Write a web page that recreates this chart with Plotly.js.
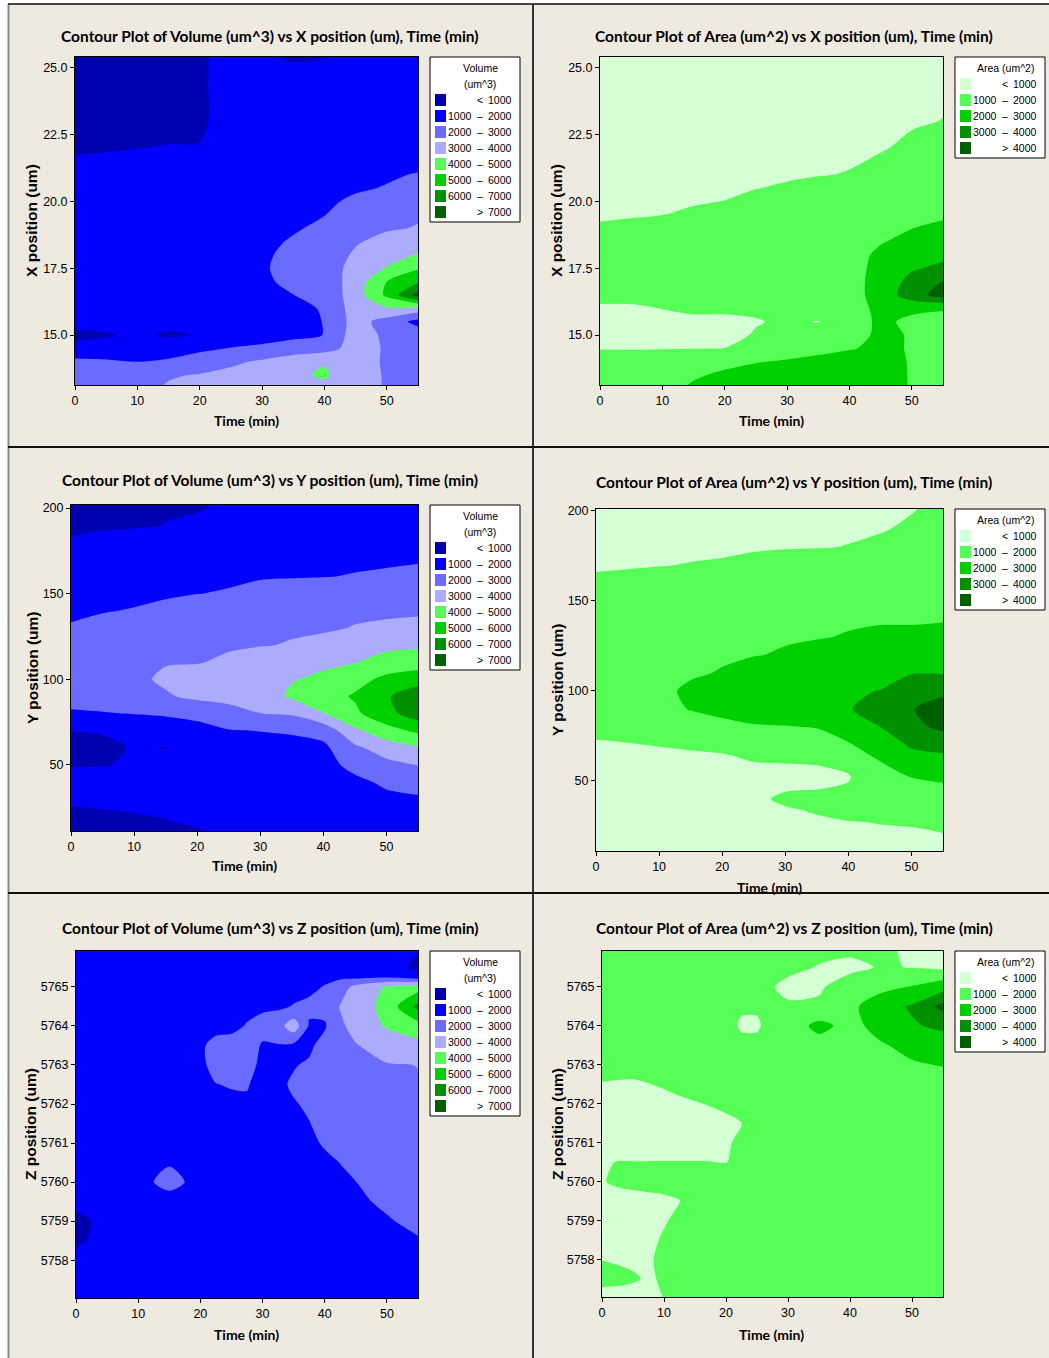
<!DOCTYPE html>
<html>
<head>
<meta charset="utf-8">
<script src="https://cdn.plot.ly/plotly-3.0.1.min.js"></script>
<style>
html,body{margin:0;padding:0;background:#ffffff;}
#chart{width:1049px;height:1358px;}
</style>
</head>
<body>
<div id="chart"></div>
<script>
// ---------------- DATA ----------------
// Contour levels and legend colours
const volumeLevels = [1000, 2000, 3000, 4000, 5000, 6000, 7000];
const volumeColors = ['#0000B0', '#0000FF', '#6B6BFF', '#ACACFF', '#55FF55', '#00D000', '#009000', '#006000'];
const areaLevels = [1000, 2000, 3000, 4000];
const areaColors = ['#D5FFD5', '#55FF55', '#00D000', '#009000', '#006000'];

// Time grid (min)
const timeMin = [0, 5, 10, 15, 20, 25, 30, 35, 40, 45, 50, 55];

// X position grid (um) for the two top panels
const xPosUm = [13.0, 13.5, 14.0, 14.5, 15.0, 15.5, 16.0, 16.5, 17.0, 17.5, 18.0, 18.5, 19.0, 19.5, 20.0, 20.5, 21.0, 22.0, 23.0, 24.5, 25.5];

// Volume (um^3) vs X position: one list per time (values along xPosUm)
const volumeVsX = [
  [2500,2450,2250,1250,800,1300,1400,1450,1450,1450,1450,1400,1400,1350,1300,1250,1150,950,800,750,750],
  [2500,2400,2150,1300,920,1300,1450,1500,1500,1500,1500,1450,1450,1400,1350,1300,1200,960,820,780,780],
  [2700,2500,1990,1400,1150,1350,1500,1550,1550,1550,1550,1500,1500,1450,1400,1350,1250,995,850,800,800],
  [3100,2920,2150,1500,900,1250,1500,1550,1600,1600,1600,1550,1550,1500,1450,1400,1300,1020,870,820,820],
  [3400,3050,2500,1800,1030,1300,1550,1600,1650,1650,1650,1600,1600,1550,1500,1450,1350,1040,850,850,850],
  [3500,3300,2800,2050,1400,1500,1600,1650,1700,1700,1700,1700,1650,1600,1550,1500,1450,1400,1400,1400,1350],
  [3600,3500,3150,2200,1600,1650,1700,1750,1850,1900,1850,1750,1700,1650,1600,1550,1500,1450,1400,1300,1050],
  [3900,3850,3500,2500,1750,1800,1850,1990,2200,2300,2250,2100,1900,1800,1700,1650,1600,1500,1400,1250,900],
  [3800,4100,3950,2600,2020,2020,2050,2300,2400,2400,2400,2350,2200,1980,1850,1750,1700,1550,1400,1250,950],
  [3500,3475,3500,3400,3500,3400,3500,3500,3450,3400,3150,2900,2700,2500,2150,1900,1800,1600,1450,1300,1200],
  [2900,2900,2850,2900,2800,2600,3900,5200,5000,4050,3700,3300,2900,2600,2300,2050,1900,1650,1500,1350,1300],
  [2600,2600,2600,2600,2600,1700,3600,7400,5850,4900,4050,3600,3050,2900,2500,2200,2050,1500,1400,1300,1300]
];

// Area (um^2) vs X position: one list per time (values along xPosUm)
const areaVsX = [
  [1300,1300,1200,980,850,850,950,1100,1250,1300,1300,1250,1100,900,800,700,650,600,550,500,500],
  [1400,1400,1250,970,800,800,930,1150,1300,1350,1350,1300,1150,950,850,750,700,600,550,500,500],
  [1600,1550,1300,980,800,850,1010,1200,1350,1400,1400,1350,1200,995,900,800,750,650,600,550,500],
  [2200,1850,1400,990,800,880,1100,1300,1400,1450,1450,1400,1300,1100,950,850,800,700,650,550,500],
  [2500,2200,1700,1005,820,900,1080,1300,1450,1500,1500,1450,1350,1200,1010,900,850,750,700,600,550],
  [2700,2400,1950,1400,1050,960,1100,1300,1450,1500,1550,1500,1450,1300,1150,990,900,800,750,650,600],
  [2900,2600,2100,1500,1200,1100,1200,1350,1500,1550,1600,1550,1500,1400,1250,1050,950,850,800,700,650],
  [2800,2700,2300,1700,1300,980,1300,1400,1550,1600,1600,1550,1500,1400,1300,1150,980,900,850,750,700],
  [2800,2700,2400,1950,1700,1600,1650,1700,1650,1750,1700,1650,1550,1450,1350,1200,1020,920,880,800,750],
  [2300,2300,2250,2150,2150,2150,2200,2300,2350,2200,2150,1950,1750,1600,1450,1350,1200,960,900,850,800],
  [1950,1950,1950,1950,1950,1850,2150,3600,3300,2900,2600,2200,1990,1800,1650,1500,1400,1100,950,900,850],
  [1700,1700,1750,1750,1750,1800,2050,4400,4050,3200,2800,2500,2150,1900,1700,1550,1450,1200,1010,900,850]
];

// Y position grid (um) for the volume-vs-Y panel
const yPosUmVol = [10, 20, 30, 40, 50, 60, 70, 80, 90, 100, 110, 120, 130, 140, 150, 160, 170, 180, 190, 202];

// Volume (um^3) vs Y position: one list per time (values along yPosUmVol)
const volumeVsY = [
  [700,850,1100,1300,950,800,1010,1900,2300,2500,2600,2400,2100,1800,1600,1400,1200,1050,900,800],
  [750,900,1150,1300,980,850,1050,1950,2400,2600,2700,2600,2300,1950,1700,1500,1300,1100,950,850],
  [800,950,1200,1350,1050,1050,1300,2030,2500,2800,2800,2700,2500,2050,1800,1600,1400,1200,950,900],
  [850,1030,1250,1400,1200,980,1500,2100,2900,3150,2950,2800,2600,2200,1900,1700,1500,1300,1010,950],
  [950,1100,1300,1450,1400,1350,1700,2250,3200,3400,2950,2850,2650,2400,1990,1800,1600,1400,1150,900],
  [1050,1200,1350,1500,1550,1550,1950,2700,3250,3600,3150,2900,2700,2500,2050,1900,1700,1500,1300,1100],
  [1100,1300,1450,1550,1600,1650,2020,2990,3500,3750,3500,2950,2800,2600,2200,1950,1750,1550,1350,1150],
  [1150,1350,1500,1600,1650,1700,2100,3100,4150,3950,3700,3050,2900,2700,2450,1950,1800,1600,1400,1200],
  [1200,1400,1550,1650,1700,1800,2350,3950,4600,4150,3850,3350,2850,2750,2550,1980,1850,1650,1450,1250],
  [1300,1500,1650,1800,2250,2800,3800,4800,5100,4700,3950,3600,3050,2800,2500,2030,1900,1700,1500,1300],
  [1400,1600,1800,2150,2700,3500,4600,5700,5900,5200,4500,3700,3150,2850,2600,2100,1900,1750,1600,1400],
  [1500,1700,1900,2300,3020,3900,5200,6500,6600,5600,4500,3850,3200,2900,2650,2300,1900,1800,1700,1500]
];

// Y position grid (um) for the area-vs-Y panel
const yPosUmArea = [10, 20, 27, 34, 40, 46, 52, 58, 64, 72, 80, 90, 100, 110, 120, 130, 140, 150, 160, 170, 180, 190, 202];

// Area (um^2) vs Y position: one list per time (values along yPosUmArea)
const areaVsY = [
  [600,650,700,720,750,780,800,820,870,980,1150,1350,1500,1600,1600,1500,1350,1200,1080,950,850,750,700],
  [620,680,720,740,770,800,830,860,910,1010,1200,1450,1600,1700,1700,1600,1450,1300,1100,970,870,780,720],
  [650,700,750,770,800,830,860,900,950,1030,1300,1650,1800,1850,1800,1700,1550,1400,1200,980,880,800,740],
  [680,740,780,800,830,860,890,930,970,1050,1450,2050,2150,1900,1850,1750,1650,1500,1300,1020,900,830,760],
  [700,760,800,830,860,880,910,950,980,1100,1700,2300,2500,2050,1900,1800,1700,1550,1350,1050,920,850,780],
  [720,780,820,850,880,900,930,970,1040,1300,1900,2500,2700,2500,1950,1850,1750,1600,1400,1150,940,870,800],
  [750,800,850,950,1100,950,900,960,1100,1400,1950,2600,2900,2600,2100,1900,1800,1650,1450,1200,970,900,820],
  [780,850,920,1050,1150,980,920,980,1150,1500,2050,2700,2950,2750,2300,1950,1850,1700,1500,1250,980,910,840],
  [800,880,980,1150,1250,1050,960,1080,1500,2020,2600,2950,2950,2800,2500,2050,1900,1750,1550,1300,1010,950,860],
  [850,950,1010,1150,1300,1350,1450,1800,2200,2600,2990,3300,3010,2800,2600,2200,1900,1800,1600,1400,1150,950,880],
  [900,995,1003,1250,1500,1750,2010,2500,2800,3200,3700,3950,3600,2950,2700,2200,1900,1850,1700,1500,1300,1100,950],
  [920,990,1050,1300,1600,1850,2150,2600,2900,3450,4250,4400,3800,2950,2750,2400,1900,1850,1750,1600,1450,1300,1150]
];

// Z position panels
const timeMinZVol = [0, 5, 10, 15, 20, 22.5, 25, 27.5, 30, 32.5, 35, 37.5, 40, 42.5, 45, 50, 55];
const zPosUmVol = [5757.0, 5758.0, 5758.5, 5759.0, 5759.5, 5760.0, 5760.5, 5761.0, 5761.5, 5762.0, 5762.5, 5763.0, 5763.5, 5764.0, 5764.5, 5765.0, 5765.25, 5765.5, 5766.0];

// Volume (um^3) vs Z position: one list per time (values along zPosUmVol)
const volumeVsZ = [
  [1200,1100,950,900,1100,1400,1450,1500,1500,1500,1500,1500,1500,1500,1500,1500,1500,1500,1500],
  [1300,1250,1100,1100,1300,1500,1550,1550,1550,1500,1500,1500,1500,1500,1500,1500,1500,1500,1500],
  [1350,1400,1400,1450,1500,1600,1600,1600,1550,1550,1500,1500,1500,1500,1500,1500,1500,1500,1500],
  [1400,1450,1500,1500,1500,2400,1900,1600,1550,1550,1500,1500,1500,1500,1500,1500,1500,1500,1500],
  [1400,1500,1500,1550,1600,1600,1600,1600,1600,1600,1700,1800,1900,1700,1600,1550,1500,1500,1500],
  [1400,1500,1550,1550,1600,1600,1600,1650,1700,1800,1980,2300,2200,1800,1650,1550,1500,1500,1500],
  [1400,1500,1550,1600,1600,1600,1650,1700,1750,1850,2050,2400,2300,1800,1700,1600,1550,1500,1500],
  [1400,1500,1550,1600,1650,1700,1700,1750,1800,1900,2050,2300,2250,2050,1800,1650,1600,1550,1500],
  [1400,1500,1550,1600,1650,1700,1750,1800,1800,1850,1750,1800,1950,2200,1900,1700,1600,1550,1500],
  [1400,1500,1550,1600,1650,1700,1750,1800,1850,1900,1850,1800,1950,2600,1850,1700,1600,1550,1500],
  [1400,1500,1550,1600,1650,1700,1750,1800,1850,1950,2100,1950,1800,3600,2050,1700,1600,1550,1500],
  [1400,1500,1550,1650,1700,1750,1800,1900,1980,2100,2250,2100,1850,1900,2200,1800,1650,1550,1500],
  [1450,1550,1600,1700,1750,1800,1900,2050,2200,2350,2450,2500,2300,1900,2300,2050,1800,1600,1500],
  [1500,1600,1700,1750,1850,1900,2010,2200,2350,2500,2600,2700,2800,2850,3050,2500,1850,1600,1500],
  [1550,1650,1750,1800,1900,1995,2150,2300,2450,2600,2750,2850,2950,3300,3500,3300,1800,1600,1500],
  [1600,1750,1850,1950,2100,2250,2400,2550,2700,2850,2950,2950,3400,4100,4300,4100,1950,1300,1400],
  [1650,1850,1950,2150,2300,2450,2600,2750,2850,2900,2950,3010,3700,4600,6300,4500,1500,850,1050]
];

const timeMinZArea = [0, 2.5, 5, 7.5, 10, 12.5, 15, 17.5, 20, 22.5, 25, 27.5, 30, 35, 40, 45, 50, 55];
const zPosUmArea = [5757.0, 5757.5, 5758.0, 5758.5, 5759.0, 5759.5, 5760.0, 5760.5, 5761.0, 5761.5, 5762.0, 5762.5, 5763.0, 5763.5, 5764.0, 5764.5, 5765.0, 5765.5, 5766.0];

// Area (um^2) vs Z position: one list per Z row (values along timeMinZArea)
const areaVsZ = [
  [800,800,820,850,1010,1100,1200,1300,1350,1400,1400,1450,1450,1500,1550,1550,1600,1600],
  [1150,1120,1050,950,1050,1200,1300,1350,1400,1450,1450,1500,1500,1500,1550,1550,1600,1600],
  [990,950,920,960,1080,1250,1350,1400,1450,1450,1500,1500,1500,1550,1550,1600,1600,1600],
  [850,850,870,900,1050,1200,1300,1400,1450,1450,1500,1500,1500,1550,1550,1600,1600,1600],
  [850,850,860,880,960,1100,1250,1350,1400,1450,1500,1500,1500,1550,1550,1600,1600,1600],
  [880,880,900,920,950,990,1100,1250,1350,1400,1450,1500,1500,1550,1550,1600,1600,1600],
  [980,1050,1080,1100,1100,1150,1200,1300,1350,1400,1450,1500,1500,1550,1550,1600,1600,1600],
  [960,1010,1010,1010,1010,1010,1010,1005,980,1150,1300,1400,1450,1500,1550,1600,1600,1600],
  [750,750,750,760,780,800,820,860,940,1100,1250,1350,1450,1500,1550,1600,1600,1600],
  [720,720,720,730,750,780,800,850,900,990,1150,1300,1400,1500,1550,1600,1600,1600],
  [750,740,750,780,830,900,970,1030,1100,1150,1250,1350,1400,1500,1550,1600,1600,1600],
  [980,960,950,990,1060,1150,1200,1250,1300,1350,1400,1400,1450,1500,1550,1600,1600,1600],
  [1150,1150,1150,1180,1200,1250,1300,1300,1350,1400,1400,1450,1500,1550,1600,1700,1900,2050],
  [1250,1250,1250,1250,1300,1300,1350,1350,1400,1200,1200,1400,1500,1600,1600,1900,2300,2500],
  [1300,1300,1300,1300,1300,1300,1300,1300,1300,900,900,1300,1400,2300,1650,2400,2900,3200],
  [1350,1350,1350,1350,1350,1350,1350,1300,1300,1100,1100,1350,1050,1100,1750,2600,3100,4300],
  [1400,1400,1400,1400,1400,1400,1400,1350,1300,1250,1200,1020,900,920,1300,1700,2050,2600],
  [1400,1400,1400,1400,1400,1400,1400,1400,1350,1300,1250,1200,1100,980,850,1050,980,800],
  [1400,1400,1400,1400,1400,1400,1400,1400,1400,1350,1300,1250,1200,1100,1150,1100,900,750]
];

// Tick labels
const timeTicks = [0, 10, 20, 30, 40, 50];
const xPosTicks = [15, 17.5, 20, 22.5, 25];
const yPosTicks = [50, 100, 150, 200];
const zPosTicks = [5758, 5759, 5760, 5761, 5762, 5763, 5764, 5765];

// ---------------- LAYOUT HELPERS ----------------
const W = 1049, H = 1358;
const PX = v => v / W;
const PY = v => 1 - v / H;
const TITLEFONT = 'Lato, Liberation Sans, Arial, sans-serif';
const SANS = 'Liberation Sans, Arial, sans-serif';

function stepScale(colors) {
  const n = colors.length;
  return colors.map((c, i) => [i / (n - 1), c]);
}

const panels = [
  {kind:'vol', x:timeMin, y:xPosUm, z:volumeVsX, tr:true, box:[75,418,57,385], yr:[13.13,25.41], yt:xPosTicks, yfmt:'.1f',
   title:'Contour Plot of Volume (um^3) vs X position (um), Time (min)', tc:[270,36], xt:[246,420], yl:'X position (um)', ytc:[32,221], leg:[430,57]},
  {kind:'area', x:timeMin, y:xPosUm, z:areaVsX, tr:true, box:[600,943,57,385], yr:[13.13,25.41], yt:xPosTicks, yfmt:'.1f',
   title:'Contour Plot of Area (um^2) vs X position (um), Time (min)', tc:[794,36], xt:[771,420], yl:'X position (um)', ytc:[557,221], leg:[955,57]},
  {kind:'vol', x:timeMin, y:yPosUmVol, z:volumeVsY, tr:true, box:[71,418,505,831], yr:[11.46,201.75], yt:yPosTicks, yfmt:'d',
   title:'Contour Plot of Volume (um^3) vs Y position (um), Time (min)', tc:[270,480], xt:[244,866], yl:'Y position (um)', ytc:[32,668], leg:[430,505]},
  {kind:'area', x:timeMin, y:yPosUmArea, z:areaVsY, tr:true, box:[596,943,509,851], yr:[11.1,201.1], yt:yPosTicks, yfmt:'d',
   title:'Contour Plot of Area (um^2) vs Y position (um), Time (min)', tc:[794,482], xt:[769,887], yl:'Y position (um)', ytc:[557,680], leg:[955,509]},
  {kind:'vol', x:timeMinZVol, y:zPosUmVol, z:volumeVsZ, tr:true, box:[76,418,951,1298], yr:[5757.03,5765.92], yt:zPosTicks, yfmt:'d',
   title:'Contour Plot of Volume (um^3) vs Z position (um), Time (min)', tc:[270,928], xt:[246,1334], yl:'Z position (um)', ytc:[30,1124], leg:[430,951]},
  {kind:'area', x:timeMinZArea, y:zPosUmArea, z:areaVsZ, tr:false, box:[602,943,951,1297], yr:[5757.03,5765.92], yt:zPosTicks, yfmt:'d',
   title:'Contour Plot of Area (um^2) vs Z position (um), Time (min)', tc:[794,928], xt:[771,1334], yl:'Z position (um)', ytc:[557,1124], leg:[955,951]}
];

const traces = [];
const layout = {
  width: W, height: H,
  margin: {l:0, r:0, t:0, b:0},
  paper_bgcolor: '#FFFFFF',
  plot_bgcolor: '#FFFFFF',
  showlegend: false,
  hovermode: false,
  shapes: [],
  annotations: []
};

// Panel background and divider lines
layout.shapes.push({type:'rect', xref:'paper', yref:'paper', x0:PX(8), x1:1, y0:0, y1:PY(4),
  fillcolor:'#EEEAE0', line:{width:0}, layer:'below'});
const lineDefs = [
  {x0:8.5, x1:8.5, y0:4, y1:1358, c:'#8A8A8A'},
  {x0:8, x1:1049, y0:4, y1:4, c:'#444444'},
  {x0:533, x1:533, y0:4, y1:1358, c:'#333333'},
  {x0:8, x1:1049, y0:447, y1:447, c:'#111111'},
  {x0:8, x1:1049, y0:893, y1:893, c:'#111111'}
];
lineDefs.forEach(d => layout.shapes.push({type:'line', xref:'paper', yref:'paper',
  x0:PX(d.x0), x1:PX(d.x1), y0:PY(d.y0), y1:PY(d.y1), line:{color:d.c, width:2}}));

function ann(text, x, y, opts) {
  return Object.assign({text:text, xref:'paper', yref:'paper', x:PX(x), y:PY(y),
    showarrow:false, xanchor:'center', yanchor:'middle', borderpad:0,
    font:{family:SANS, size:10.5, color:'#000'}}, opts || {});
}

function addLegend(L, T, kind) {
  const levels = kind === 'vol' ? volumeLevels : areaLevels;
  const colors = kind === 'vol' ? volumeColors : areaColors;
  const titleLines = kind === 'vol' ? ['Volume', '(um^3)'] : ['Area (um^2)'];
  const first = T + 11 + 16 * titleLines.length;
  const n = colors.length;
  const bottom = first + 16 * (n - 1) + 10;
  layout.shapes.push({type:'rect', xref:'paper', yref:'paper', x0:PX(L), x1:PX(L + 90), y0:PY(T), y1:PY(bottom),
    fillcolor:'#FFFFFF', line:{color:'#000000', width:1}});
  titleLines.forEach((t, i) => layout.annotations.push(ann(t, L + 50, T + 11 + 16 * i)));
  for (let i = 0; i < n; i++) {
    const yc = first + 16 * i;
    layout.shapes.push({type:'rect', xref:'paper', yref:'paper', x0:PX(L + 5), x1:PX(L + 16),
      y0:PY(yc + 6), y1:PY(yc - 6), fillcolor:colors[i], line:{width:0}});
    if (i === 0) {
      layout.annotations.push(ann('<', L + 50, yc));
      layout.annotations.push(ann(String(levels[0]), L + 83, yc, {xanchor:'right'}));
    } else if (i === n - 1) {
      layout.annotations.push(ann('>', L + 50, yc));
      layout.annotations.push(ann(String(levels[levels.length - 1]), L + 83, yc, {xanchor:'right'}));
    } else {
      layout.annotations.push(ann(String(levels[i - 1]), L + 43, yc, {xanchor:'right'}));
      layout.annotations.push(ann('\u2013', L + 50, yc));
      layout.annotations.push(ann(String(levels[i]), L + 83, yc, {xanchor:'right'}));
    }
  }
}

panels.forEach((p, k) => {
  const idx = k + 1;
  const xa = 'xaxis' + (idx > 1 ? idx : '');
  const ya = 'yaxis' + (idx > 1 ? idx : '');
  const xr = 'x' + (idx > 1 ? idx : '');
  const yr = 'y' + (idx > 1 ? idx : '');
  const levels = p.kind === 'vol' ? volumeLevels : areaLevels;
  const colors = p.kind === 'vol' ? volumeColors : areaColors;
  traces.push({
    type:'contour', x:p.x, y:p.y, z:p.z, transpose:p.tr,
    xaxis:xr, yaxis:yr,
    autocontour:false,
    contours:{start:levels[0], end:levels[levels.length - 1], size:levels[1] - levels[0], coloring:'fill', showlines:false},
    colorscale:stepScale(colors), showscale:false,
    line:{width:0, smoothing:0.8}, hoverinfo:'skip'
  });
  const common = {
    showline:true, mirror:true, linecolor:'#000000', linewidth:1,
    ticks:'outside', ticklen:4, tickwidth:1, tickcolor:'#000000',
    showgrid:false, zeroline:false, fixedrange:true,
    tickfont:{family:SANS, size:12.5, color:'#000000'}
  };
  layout[xa] = Object.assign({}, common, {
    domain:[PX(p.box[0]), PX(p.box[1])], range:[0, 55], anchor:yr,
    tickmode:'array', tickvals:timeTicks
  });
  layout[ya] = Object.assign({}, common, {
    domain:[PY(p.box[3]), PY(p.box[2])], range:p.yr, anchor:xr,
    tickmode:'array', tickvals:p.yt, tickformat:p.yfmt
  });
  layout.annotations.push(ann('<b>' + p.title + '</b>', p.tc[0], p.tc[1], {font:{family:TITLEFONT, size:15.5, color:'#000'}}));
  layout.annotations.push(ann('<b>Time (min)</b>', p.xt[0], p.xt[1], {font:{family:TITLEFONT, size:14, color:'#000'}}));
  layout.annotations.push(ann('<b>' + p.yl + '</b>', p.ytc[0], p.ytc[1], {textangle:-90, font:{family:SANS, size:15.5, color:'#000'}}));
  addLegend(p.leg[0], p.leg[1], p.kind);
});

Plotly.newPlot('chart', traces, layout, {staticPlot:true, displayModeBar:false});
</script>
</body>
</html>
